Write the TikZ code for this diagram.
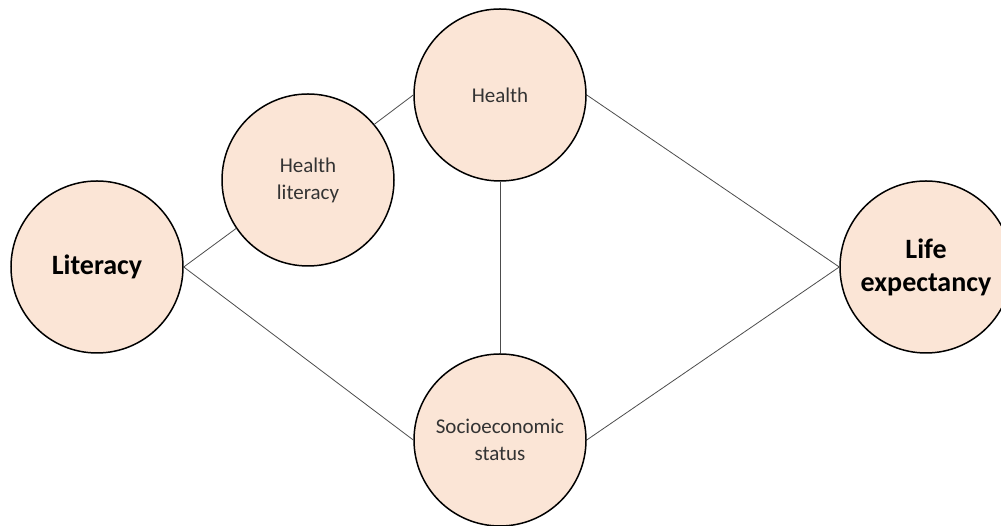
\documentclass[tikz,border=0pt]{standalone}
\usepackage{fontspec}
\setmainfont{Carlito}
\definecolor{peach}{HTML}{FBE5D6}

\begin{document}
\begin{tikzpicture}[x=1pt, y=1pt,
        factor/.style={draw, circle, line width=1.5pt, fill=peach, minimum size=172pt, inner sep=0pt, align=center, text=black!80, font=\fontsize{21}{27}\selectfont},
        main/.style={factor, text=black, font=\bfseries\fontsize{28}{33}\selectfont},
        link/.style={draw=black!70, line width=0.8pt}]
        \useasboundingbox (0, 0) rectangle (1001, 526);

        \node[main](lit) at (97, 259) {Literacy};
        \node[factor](hlit) at (308, 346) {Health\\literacy};
        \node[factor](health) at (500, 431) {Health};
        \node[factor](ses) at (500, 86) {Socioeconomic\\status};
        \node[main](life) at (926, 259) {Life\\expectancy};

        \draw[link] (lit.east) -- (hlit.214);
        \draw[link] (hlit.40) -- (health.west);
        \draw[link] (lit.east) -- (ses.west);
        \draw[link] (health.south) -- (ses.north);
        \draw[link] (health.east) -- (life.west);
        \draw[link] (ses.east) -- (life.west);
    \end{tikzpicture}
\end{document}
